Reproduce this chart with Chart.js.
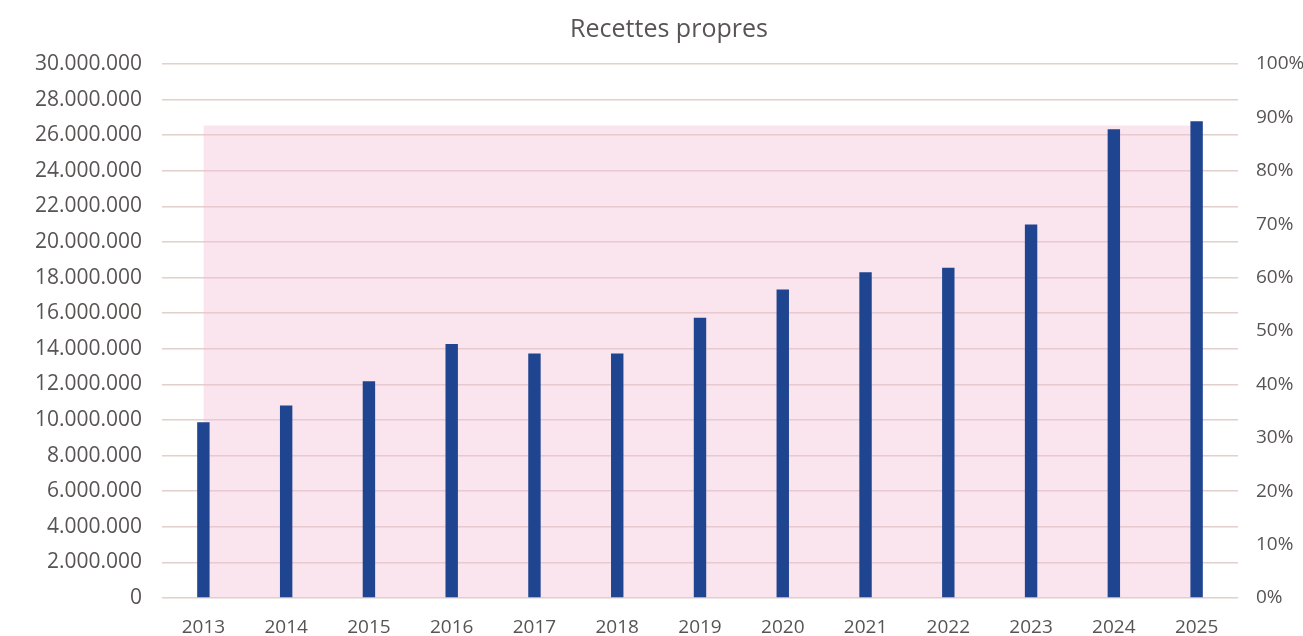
<!DOCTYPE html>
<html>
<head>
<meta charset="utf-8">
<script src="https://cdn.jsdelivr.net/npm/chart.js@4/dist/chart.umd.min.js"></script>
<style>
  html, body { margin: 0; padding: 0; background: #fff; overflow: hidden; }
  canvas { display: block; }
</style>
</head>
<body>
<canvas id="recettesChart" width="1303" height="636"></canvas>
<script>
const years = ["2013", "2014", "2015", "2016", "2017", "2018", "2019", "2020", "2021", "2022", "2023", "2024", "2025"];
const recettes = [9870000, 10820000, 12170000, 14270000, 13730000, 13730000, 15750000, 17330000, 18300000, 18550000, 20980000, 26330000, 26780000];
const zonePct = [88.5, 88.5, 88.5, 88.5, 88.5, 88.5, 88.5, 88.5, 88.5, 88.5, 88.5, 88.5, 88.5];

function dots(v) {
  return String(v).replace(/\B(?=(\d{3})+(?!\d))/g, ".");
}

const textColor = "#595454";
const gridColor = "#e2d0cc";

const ctx = document.getElementById("recettesChart").getContext("2d");
const chart = new Chart(ctx, {
  type: "bar",
  data: {
    labels: years,
    datasets: [
      {
        type: "bar",
        label: "Recettes propres",
        data: recettes,
        backgroundColor: "#1f4590",
        borderWidth: 0,
        barPercentage: 0.5,
        categoryPercentage: 0.3,
        yAxisID: "y",
        order: 1
      },
      {
        type: "line",
        label: "zone",
        data: zonePct,
        yAxisID: "y1",
        backgroundColor: "rgba(243, 190, 215, 0.42)",
        borderWidth: 0,
        pointRadius: 0,
        fill: "origin",
        order: 2
      }
    ]
  },
  options: {
    responsive: false,
    animation: false,
    layout: {
      autoPadding: false,
      padding: { left: 35, right: 0, top: 0, bottom: 0 }
    },
    plugins: {
      legend: { display: false },
      tooltip: { enabled: false },
      title: {
        display: true,
        text: "Recettes propres",
        color: textColor,
        font: { family: "Open Sans", size: 25, weight: "normal", lineHeight: 1.2 },
        padding: { top: 15, bottom: 19 }
      }
    },
    scales: {
      x: {
        grid: { display: false, drawTicks: false },
        border: { display: false },
        afterFit: (s) => { s.height = 38; },
        ticks: {
          color: textColor,
          padding: 20,
          font: { family: "Open Sans", size: 19, lineHeight: 1 }
        }
      },
      y: {
        position: "left",
        min: 0,
        max: 30000000,
        grid: { color: gridColor, lineWidth: 1.5, drawTicks: false },
        border: { display: false },
        afterFit: (s) => { s.width = 127; },
        ticks: {
          stepSize: 2000000,
          color: textColor,
          padding: 20,
          font: { family: "Open Sans", size: 21, lineHeight: 1 },
          callback: (v) => dots(v)
        }
      },
      y1: {
        position: "right",
        min: 0,
        max: 100,
        grid: { display: false, drawTicks: false },
        border: { display: false },
        afterFit: (s) => { s.width = 65; },
        ticks: {
          stepSize: 10,
          color: textColor,
          padding: 18,
          font: { family: "Open Sans", size: 19, lineHeight: 1 },
          callback: (v) => v + "%"
        }
      }
    }
  }
});
</script>
</body>
</html>
